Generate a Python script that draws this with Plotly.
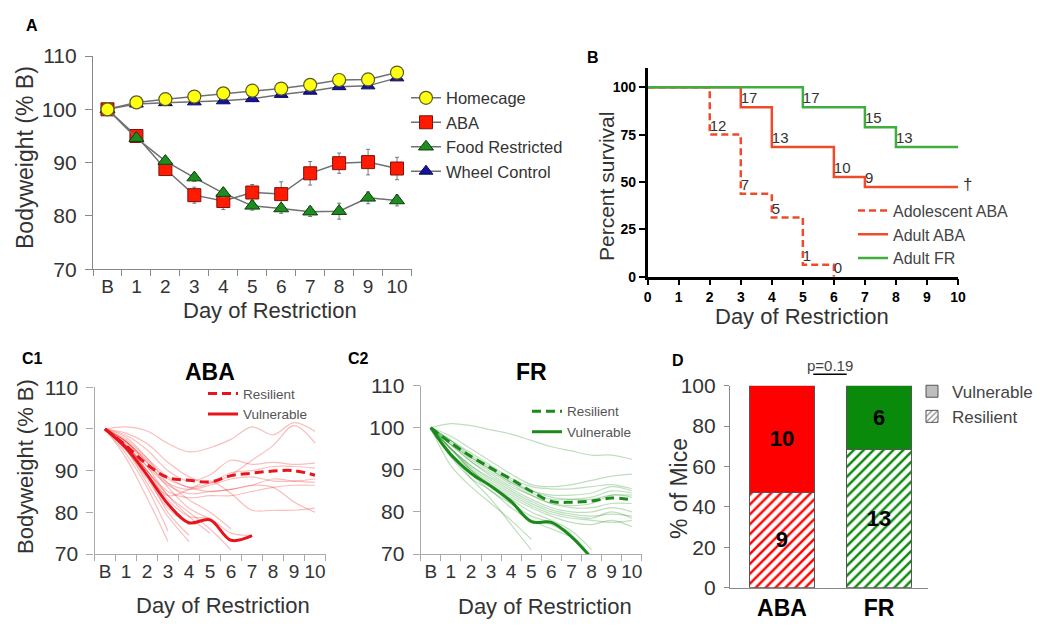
import plotly.graph_objects as go

FONT = "Liberation Sans, Arial, sans-serif"
W, H = 1050, 633

# ---------------- data ----------------
days = ["B", "1", "2", "3", "4", "5", "6", "7", "8", "9", "10"]

# Panel A: mean bodyweight (% baseline)
homecage = [100, 101.3, 101.9, 102.4, 103.0, 103.5, 103.9, 104.6, 105.5, 105.6, 106.9]
wheel_control = [100, 101.0, 101.25, 101.4, 101.6, 102.0, 102.8, 103.4, 104.25, 104.4, 105.9]
aba = [100, 95.0, 88.8, 83.9, 82.8, 84.4, 84.1, 88.0, 89.9, 90.1, 88.9]
aba_err = [0, 0.5, 0.8, 1.5, 1.6, 1.5, 2.3, 2.2, 1.9, 2.4, 2.1]
food_restricted = [100, 94.6, 90.3, 87.2, 84.3, 81.9, 81.4, 80.8, 80.9, 83.4, 82.9]
fr_err = [0, 0.5, 0.6, 0.7, 0.8, 0.8, 0.9, 0.9, 1.5, 1.1, 1.0]

# Panel B: survival (%)
surv_days_ticks = [0, 1, 2, 3, 4, 5, 6, 7, 8, 9, 10]
adol_days = [0, 2, 3, 4, 5, 6]
adol_surv = [100, 75.0, 43.8, 31.3, 6.3, 0]
adol_n = ["", "12", "7", "5", "1", "0"]
adult_aba_days = [0, 3, 4, 6, 7, 10]
adult_aba_surv = [100, 89.5, 68.4, 52.6, 47.4, 47.4]
adult_aba_n = ["", "17", "13", "10", "9", ""]
adult_fr_days = [0, 5, 7, 8, 10]
adult_fr_surv = [100, 89.5, 78.9, 68.4, 68.4]
adult_fr_n = ["", "17", "15", "13", ""]

# Panel C1: ABA individual mice and group means
aba_resilient_mean = [100, 96.0, 91.5, 88.3, 87.7, 87.3, 88.8, 89.4, 89.9, 90.0, 88.9]
aba_vulnerable_mean = [100, 95.5, 89.0, 82.0, 77.5, 78.2, 73.3, 74.4]
aba_resilient_mice = [
    [100, 100.5, 99.5, 96.5, 94.5, 95.5, 97.5, 100.5, 98.6, 101.5, 99.4],
    [100, 99.0, 96.5, 92.0, 88.5, 87.0, 89.0, 92.5, 96.0, 100.8, 96.6],
    [100, 98.5, 95.0, 90.0, 87.5, 89.0, 92.5, 91.5, 92.0, 91.5, 91.8],
    [100, 97.5, 93.0, 88.5, 86.0, 87.0, 89.5, 90.0, 91.0, 91.0, 90.6],
    [100, 97.0, 92.0, 87.0, 85.5, 86.5, 88.0, 88.5, 87.5, 87.5, 88.0],
    [100, 96.0, 91.0, 86.5, 84.5, 85.0, 85.5, 86.5, 88.0, 87.5, 87.2],
    [100, 96.5, 90.0, 85.0, 83.5, 84.0, 84.0, 85.0, 86.0, 86.5, 86.5],
    [100, 95.0, 89.0, 84.0, 85.5, 87.5, 84.5, 80.5, 80.5, 80.5, 81.0],
    [100, 97.0, 92.5, 88.0, 86.0, 85.0, 85.5, 86.5, 86.0, 82.5, 80.0],
]
aba_vulnerable_mice = [
    [100, 93.0, 83.5, 73.0],
    [100, 94.0, 86.0, 75.5],
    [100, 96.0, 89.0, 80.0, 74.5],
    [100, 95.0, 87.0, 79.0, 73.0],
    [100, 97.0, 91.0, 84.0, 79.0, 75.0],
    [100, 96.0, 90.0, 84.0, 80.0, 76.0, 71.0],
    [100, 98.0, 93.0, 87.0, 83.0, 80.0, 76.0],
    [100, 97.0, 92.0, 86.0, 81.0, 78.5],
    [100, 95.0, 88.0, 81.0, 77.0],
    [100, 96.0, 90.0, 83.0, 79.0, 78.5, 75.0, 74.5],
]

# Panel C2: FR individual mice and group means
fr_resilient_mean = [100, 96.4, 93.2, 90.4, 87.8, 84.9, 82.5, 82.3, 82.6, 83.3, 82.9]
fr_vulnerable_mean = [100, 93.6, 89.2, 86.1, 82.5, 77.7, 77.5, 74.1, 69.0]
fr_resilient_mice = [
    [100, 101.0, 100.5, 99.5, 98.5, 97.0, 95.5, 94.5, 93.5, 93.5, 92.5],
    [100, 98.0, 95.0, 92.0, 89.0, 86.5, 86.0, 86.5, 87.5, 88.5, 89.0],
    [100, 97.0, 94.0, 91.0, 88.0, 86.0, 85.5, 85.5, 86.0, 86.5, 85.5],
    [100, 97.0, 93.0, 90.0, 87.0, 85.0, 84.0, 84.0, 84.5, 86.0, 85.0],
    [100, 96.0, 93.0, 90.0, 87.0, 84.5, 83.0, 83.0, 83.5, 85.0, 84.5],
    [100, 96.0, 92.0, 89.0, 86.0, 84.0, 82.0, 81.5, 82.0, 84.0, 83.5],
    [100, 96.0, 92.0, 88.5, 85.5, 83.0, 81.0, 80.0, 80.0, 81.0, 80.0],
    [100, 95.0, 91.0, 88.0, 85.0, 82.5, 80.5, 79.5, 79.0, 79.5, 79.0],
    [100, 95.0, 91.0, 87.5, 84.5, 82.0, 80.0, 79.0, 78.5, 80.0, 78.5],
    [100, 95.0, 90.5, 87.0, 84.0, 81.5, 79.5, 78.5, 78.0, 77.5, 78.0],
    [100, 94.0, 90.0, 86.5, 83.5, 81.0, 79.0, 77.5, 77.0, 78.0, 76.5],
    [100, 97.0, 93.5, 90.5, 87.5, 85.0, 83.5, 83.0, 83.0, 84.0, 84.0],
    [100, 96.5, 92.5, 89.5, 86.5, 84.0, 82.0, 81.0, 81.0, 82.0, 82.0],
]
fr_vulnerable_mice = [
    [100, 91.0, 86.0, 82.0, 78.0, 73.5],
    [100, 94.0, 88.0, 83.0, 77.0, 71.0],
    [100, 95.0, 90.0, 86.0, 82.0, 78.0, 76.0, 74.0],
    [100, 94.0, 89.0, 85.0, 82.0, 79.0, 77.5, 75.0],
    [100, 95.0, 90.0, 86.0, 83.0, 80.0, 78.0, 75.5, 71.0],
    [100, 93.0, 88.0, 85.0, 81.0, 78.0, 77.0, 74.0],
]

# Panel D: number of mice
groups = ["ABA", "FR"]
resilient_counts = [9, 13]
vulnerable_counts = [10, 6]

# ---------------- helpers ----------------
def px(x):
    return x / W

def py(y):
    return 1 - y / H

RED = "#ff1a00"
GREEN_A = "#1e8c1e"
B_RED = "#ee4b2b"
B_GREEN = "#3fae3f"

fig = go.Figure()

# ---------------- Panel A ----------------
line_a = dict(color="#707070", width=1.5)
fig.add_trace(go.Scatter(x=days, y=wheel_control, mode="lines+markers", name="Wheel Control",
                         line=line_a, legendrank=4, legend="legend",
                         marker=dict(symbol="triangle-up", size=12, color="#1414a0",
                                     line=dict(color="#0a0a50", width=1)),
                         xaxis="x", yaxis="y"))
fig.add_trace(go.Scatter(x=days, y=aba, mode="lines+markers", name="ABA",
                         line=line_a, legendrank=2, legend="legend",
                         error_y=dict(type="data", array=aba_err, color="#777", thickness=1, width=2),
                         marker=dict(symbol="square", size=13, color=RED,
                                     line=dict(color="#801010", width=1)),
                         xaxis="x", yaxis="y"))
fig.add_trace(go.Scatter(x=days, y=food_restricted, mode="lines+markers", name="Food Restricted",
                         line=line_a, legendrank=3, legend="legend",
                         error_y=dict(type="data", array=fr_err, color="#777", thickness=1, width=2),
                         marker=dict(symbol="triangle-up", size=13, color=GREEN_A,
                                     line=dict(color="#0b400b", width=1)),
                         xaxis="x", yaxis="y"))
fig.add_trace(go.Scatter(x=days, y=homecage, mode="lines+markers", name="Homecage",
                         line=line_a, legendrank=1, legend="legend",
                         marker=dict(symbol="circle", size=13, color="#ffff10",
                                     line=dict(color="#5a5a20", width=1.2)),
                         xaxis="x", yaxis="y"))

# ---------------- Panel B ----------------
fig.add_trace(go.Scatter(x=adol_days, y=adol_surv, mode="lines", line_shape="hv",
                         name="Adolescent ABA", legend="legend2",
                         line=dict(color=B_RED, width=2.5, dash="7px,4px"),
                         xaxis="x2", yaxis="y2"))
fig.add_trace(go.Scatter(x=adult_aba_days, y=adult_aba_surv, mode="lines", line_shape="hv",
                         name="Adult ABA", legend="legend2",
                         line=dict(color=B_RED, width=2.5),
                         xaxis="x2", yaxis="y2"))
fig.add_trace(go.Scatter(x=adult_fr_days, y=adult_fr_surv, mode="lines", line_shape="hv",
                         name="Adult FR", legend="legend2",
                         line=dict(color=B_GREEN, width=2.5),
                         xaxis="x2", yaxis="y2"))
for xs, ys, labels in [(adol_days, adol_surv, adol_n),
                       (adult_aba_days, adult_aba_surv, adult_aba_n),
                       (adult_fr_days, adult_fr_surv, adult_fr_n)]:
    fig.add_trace(go.Scatter(x=xs, y=ys, text=labels, mode="text", textposition="top right",
                             textfont=dict(family=FONT, size=15, color="#333"),
                             showlegend=False, hoverinfo="skip", cliponaxis=False,
                             xaxis="x2", yaxis="y2"))

# ---------------- Panel C1 / C2 ----------------
def add_mice(mice, color, xa, ya):
    for m in mice:
        fig.add_trace(go.Scatter(x=days[:len(m)], y=m, mode="lines", line_shape="spline",
                                 line=dict(color=color, width=1.2), showlegend=False,
                                 hoverinfo="skip", xaxis=xa, yaxis=ya))

add_mice(aba_resilient_mice, "rgba(235,40,40,0.3)", "x3", "y3")
add_mice(aba_vulnerable_mice, "rgba(235,40,40,0.3)", "x3", "y3")
fig.add_trace(go.Scatter(x=days, y=aba_resilient_mean, mode="lines", line_shape="spline",
                         name="Resilient", legend="legend3",
                         line=dict(color="#e8141c", width=3, dash="9px,5px"),
                         xaxis="x3", yaxis="y3"))
fig.add_trace(go.Scatter(x=days[:len(aba_vulnerable_mean)], y=aba_vulnerable_mean, mode="lines",
                         line_shape="spline", name="Vulnerable", legend="legend3",
                         line=dict(color="#e8141c", width=3),
                         xaxis="x3", yaxis="y3"))

add_mice(fr_resilient_mice, "rgba(40,150,40,0.3)", "x4", "y4")
add_mice(fr_vulnerable_mice, "rgba(40,150,40,0.3)", "x4", "y4")
fig.add_trace(go.Scatter(x=days, y=fr_resilient_mean, mode="lines", line_shape="spline",
                         name="Resilient", legend="legend4",
                         line=dict(color="#1a8a1a", width=3, dash="9px,5px"),
                         xaxis="x4", yaxis="y4"))
fig.add_trace(go.Scatter(x=days[:len(fr_vulnerable_mean)], y=fr_vulnerable_mean, mode="lines",
                         line_shape="spline", name="Vulnerable", legend="legend4",
                         line=dict(color="#1a8a1a", width=3),
                         xaxis="x4", yaxis="y4"))

# ---------------- Panel D ----------------
totals = [r + v for r, v in zip(resilient_counts, vulnerable_counts)]
res_pct = [100 * r / t for r, t in zip(resilient_counts, totals)]
vul_pct = [100 * v / t for v, t in zip(vulnerable_counts, totals)]
bar_red, bar_green = "#ff0000", "#0a8a0a"
txtfont = dict(family=FONT, size=22, color="black", weight="bold")
for i, g in enumerate(groups):
    col = bar_red if i == 0 else bar_green
    fig.add_trace(go.Bar(x=[g], y=[res_pct[i]], width=0.68, text=[str(resilient_counts[i])],
                         textposition="inside", insidetextanchor="middle", textfont=txtfont,
                         marker=dict(color="white", line=dict(color="#555", width=1),
                                     pattern=dict(shape="/", fgcolor=col, bgcolor="white",
                                                  size=7, solidity=0.35, fillmode="replace")),
                         showlegend=False, hoverinfo="skip", xaxis="x5", yaxis="y5"))
    fig.add_trace(go.Bar(x=[g], y=[vul_pct[i]], width=0.68, text=[str(vulnerable_counts[i])],
                         textposition="inside", insidetextanchor="middle", textfont=txtfont,
                         marker=dict(color=col, line=dict(color="#555", width=1)),
                         showlegend=False, hoverinfo="skip", xaxis="x5", yaxis="y5"))
# legend swatches (gray) for panel D on a hidden axis
fig.add_trace(go.Bar(x=[None], y=[None], name="Vulnerable", legend="legend5", legendgroup="v",
                     marker=dict(color="#bdbdbd", line=dict(color="#555", width=1)),
                     xaxis="x6", yaxis="y6"))
fig.add_trace(go.Bar(x=[None], y=[None], name="Resilient", legend="legend5", legendgroup="r",
                     marker=dict(color="white", line=dict(color="#555", width=1),
                                 pattern=dict(shape="/", fgcolor="#888", bgcolor="white",
                                              size=5, solidity=0.3)),
                     xaxis="x6", yaxis="y6"))

# ---------------- axes ----------------
def cat_axis(dom, anchor, color, size):
    return dict(domain=dom, anchor=anchor, type="category", categoryorder="array",
                categoryarray=days, range=[-0.5, 10.5], tickson="boundaries",
                tickmode="linear", tick0=0, dtick=1, tickangle=0, automargin=False,
                ticks="outside", ticklen=6, tickcolor=color, linecolor=color, linewidth=1.2,
                showline=True, showgrid=False, zeroline=False,
                tickfont=dict(family=FONT, size=size, color="#333"))

def bw_axis(dom, anchor, color, size):
    return dict(domain=dom, anchor=anchor, range=[70, 110], tickvals=[70, 80, 90, 100, 110],
                ticks="outside", ticklen=7, tickcolor=color, linecolor=color, linewidth=1.2,
                showline=True, showgrid=False, zeroline=False, ticklabelstandoff=4, automargin=False,
                tickfont=dict(family=FONT, size=size, color="#333"))

bold14 = dict(family=FONT, size=14, color="black", weight="bold")
layout_axes = dict(
    xaxis=cat_axis([px(93), px(411.5)], "y", "#888", 19),
    yaxis=bw_axis([py(269.3), py(56)], "x", "#888", 21),
    xaxis2=dict(domain=[px(647.7), px(958)], anchor="y2", range=[0, 10], tickvals=surv_days_ticks,
                ticks="outside", ticklen=6, tickwidth=2, tickcolor="black", showline=True,
                linecolor="black", linewidth=2.5, showgrid=False, zeroline=False, tickfont=bold14,
                automargin=False),
    yaxis2=dict(domain=[py(276.7), py(68.3)], anchor="x2", range=[0, 110], tickvals=[0, 25, 50, 75, 100],
                ticks="outside", ticklen=6, tickwidth=2, tickcolor="black", showline=True,
                linecolor="black", linewidth=2.5, showgrid=False, zeroline=False, tickfont=bold14,
                automargin=False),
    xaxis3=cat_axis([px(94.5), px(325.5)], "y3", "#aaa", 19),
    yaxis3=bw_axis([py(554), py(387.3)], "x3", "#aaa", 21),
    xaxis4=cat_axis([px(420.7), px(641.8)], "y4", "#aaa", 19),
    yaxis4=bw_axis([py(554), py(385.7)], "x4", "#aaa", 21),
    xaxis5=dict(domain=[px(730), px(927.7)], anchor="y5", type="category", categoryorder="array",
                categoryarray=groups, range=[-0.536, 1.502], ticks="", showline=True,
                linecolor="#888", linewidth=1.2, showgrid=False, zeroline=False, automargin=False,
                tickfont=dict(family=FONT, size=23, color="black", weight="bold")),
    yaxis5=dict(domain=[py(587.7), py(385.7)], anchor="x5", range=[0, 100], tickvals=[0, 20, 40, 60, 80, 100],
                ticks="outside", ticklen=5, tickcolor="#888", showline=True, linecolor="#888",
                linewidth=1.2, showgrid=False, zeroline=False, ticklabelstandoff=4, automargin=False,
                tickfont=dict(family=FONT, size=21, color="#333")),
    xaxis6=dict(domain=[0.995, 1], anchor="y6", visible=False, automargin=False),
    yaxis6=dict(domain=[0.995, 1], anchor="x6", visible=False, automargin=False),
)

def legend(x, y, size, color="#333", gap=0):
    return dict(x=px(x), y=py(y), xanchor="left", yanchor="top", bgcolor="rgba(0,0,0,0)",
                font=dict(family=FONT, size=size, color=color), itemwidth=30, tracegroupgap=gap,
                traceorder="normal")

# ---------------- annotations ----------------
ann = []
def text(x, y, s, size, color="#333", bold=False, angle=0):
    ann.append(dict(x=px(x), y=py(y), xref="paper", yref="paper", text=s, showarrow=False,
                    xanchor="center", yanchor="middle", textangle=angle,
                    font=dict(family=FONT, size=size, color=color,
                              weight="bold" if bold else "normal")))

# panel letters
text(31.7, 25, "A", 16, "black", True)
text(593, 58, "B", 16, "black", True)
text(32, 358.3, "C1", 16, "black", True)
text(358, 358.3, "C2", 16, "black", True)
text(678, 360, "D", 16, "black", True)
# axis titles
text(25, 158, "Bodyweight (% B)", 23, angle=-90)
text(270, 310, "Day of Restriction", 22)
text(606, 187, "Percent survival", 21, angle=-90)
text(801.7, 316.7, "Day of Restriction", 22)
text(25, 467, "Bodyweight (% B)", 22, angle=-90)
text(223, 605, "Day of Restriction", 22)
text(545, 606.7, "Day of Restriction", 22)
text(679, 488, "% of Mice", 23, angle=-90)
# panel titles
text(210, 371.7, "ABA", 23, "black", True)
text(531.7, 371.7, "FR", 23, "black", True)
# p value
text(830, 365.5, "p=0.19", 15, "#444")
# dagger at end of adult ABA curve
ann.append(dict(x=adult_aba_days[-1], y=adult_aba_surv[-1], xref="x2", yref="y2", text="†",
                showarrow=False, xanchor="left", yanchor="middle", xshift=3, yshift=2,
                font=dict(family=FONT, size=17, color="#333")))

shapes = [dict(type="line", xref="paper", yref="paper", x0=px(813.3), x1=px(846.7),
               y0=py(374.3), y1=py(374.3), line=dict(color="black", width=1.5))]

fig.update_layout(
    template="none",
    width=W, height=H, margin=dict(l=0, r=0, t=0, b=0, pad=0, autoexpand=False),
    paper_bgcolor="white", plot_bgcolor="white",
    font=dict(family=FONT, color="#333"),
    barmode="stack", showlegend=True,
    legend=legend(406, 80.6, 16.5),
    legend2=legend(853, 193.6, 16, "#444"),
    legend3=legend(203, 378.2, 13.5, "#555"),
    legend4=legend(527, 395.9, 13.5, "#555"),
    legend5=legend(912, 373.7, 17, "#444", gap=3),
    annotations=ann, shapes=shapes,
    **layout_axes,
)

fig.write_html("out.html", config={"displayModeBar": False},
               post_script="document.body.style.margin='0';document.body.style.overflow='hidden';")
